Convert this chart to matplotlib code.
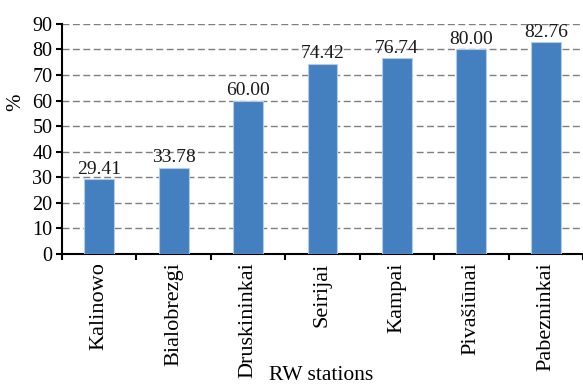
import numpy as np
import matplotlib
matplotlib.use("Agg")
import matplotlib.pyplot as plt

stations = ["Kalinowo", "Bialobrezgi", "Druskininkai", "Seirijai",
            "Kampai", "Pivašiūnai", "Pabezninkai"]
percent = [29.41, 33.78, 60.00, 74.42, 76.74, 80.00, 82.76]
y_ticks = [0, 10, 20, 30, 40, 50, 60, 70, 80, 90]

plt.rcParams["font.family"] = ["Liberation Serif", "DejaVu Serif"]

fig = plt.figure(figsize=(5.83, 3.86), dpi=100)
ax = fig.add_axes([0.1063, 0.342, 0.8937, 0.596])

x = np.arange(len(stations))
ax.bar(x, percent, width=0.4, color="#4480c0", edgecolor="#b4cbe8",
       linewidth=0.8, zorder=3)
for xi, v in zip(x, percent):
    ax.text(xi, v + 0.5, f"{v:.2f}", ha="center", va="bottom",
            fontsize=14, color="#1a1a1a", zorder=4)

ax.set_xlim(-0.5, 6.45)
ax.set_ylim(0, 90)
ax.set_yticks(y_ticks)
ax.yaxis.grid(True, color="#7f7f7f", linestyle=(0, (5, 2.5)), linewidth=1.0)
ax.set_axisbelow(True)

# labels at bar centres, tick marks at category boundaries
ax.set_xticks(x)
ax.set_xticklabels(stations, rotation=90, fontsize=16)
ax.set_xticks(np.arange(-0.5, len(stations), 1.0), minor=True)
ax.tick_params(axis="x", which="major", length=0, pad=6)
ax.tick_params(axis="x", which="minor", length=4, width=1.5, direction="out")
ax.tick_params(axis="y", labelsize=14.5, length=4, width=1.5, direction="out", pad=3)

for side in ("top", "right"):
    ax.spines[side].set_visible(False)
ax.spines["left"].set_linewidth(1.5)
ax.spines["bottom"].set_linewidth(1.5)

ax.set_ylabel("%", fontsize=15)
ax.yaxis.set_label_coords(-0.07, 0.66)
ax.set_xlabel("RW stations", fontsize=15.5)
ax.xaxis.set_label_coords(0.497, -0.485)

fig.savefig("out.png", dpi=100)
